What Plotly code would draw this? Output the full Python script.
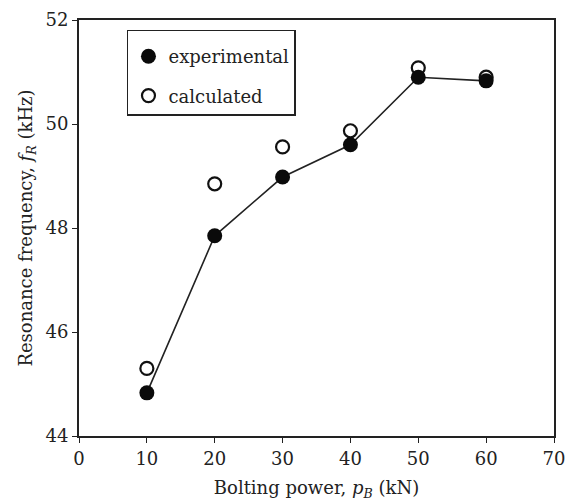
import plotly.graph_objects as go

bolting_power = [10, 20, 30, 40, 50, 60]
experimental = [44.83, 47.85, 48.98, 49.6, 50.9, 50.83]
calculated = [45.3, 48.85, 49.56, 49.87, 51.08, 50.9]

x_ticks = [0, 10, 20, 30, 40, 50, 60, 70]
y_ticks = [44, 46, 48, 50, 52]

font_family = "DejaVu Serif, Liberation Serif, serif"

fig = go.Figure()

fig.add_trace(go.Scatter(
    x=bolting_power, y=calculated, mode="markers", name="calculated",
    marker=dict(symbol="circle-open", size=13, color="#111", line=dict(width=2.2)),
    legendgroup="calc", legendrank=2,
))
fig.add_trace(go.Scatter(
    x=bolting_power, y=experimental, mode="lines",
    line=dict(color="#222", width=1.6), showlegend=False, hoverinfo="skip",
))
fig.add_trace(go.Scatter(
    x=bolting_power, y=experimental, mode="markers", name="experimental",
    marker=dict(symbol="circle", size=15, color="#0a0a0a"),
    legendgroup="exp", legendrank=1,
))

axis_common = dict(
    showline=True, linecolor="#222", linewidth=1.8, mirror=True,
    ticks="outside", ticklen=5, tickwidth=1.2, tickcolor="#222",
    showgrid=False, zeroline=False, automargin=False,
    tickfont=dict(family=font_family, size=18, color="#222"),
)

fig.update_layout(
    width=575, height=503,
    margin=dict(l=79, r=21, t=20, b=67),
    paper_bgcolor="white", plot_bgcolor="white",
    font=dict(family=font_family, color="#222"),
    xaxis=dict(range=[0, 70], tickvals=x_ticks, **axis_common,
               title=dict(text="Bolting power, <i>p</i><sub><i>B</i></sub> (kN)",
                          font=dict(family=font_family, size=18, color="#222"), standoff=14)),
    yaxis=dict(range=[44, 52], tickvals=y_ticks, **axis_common,
               title=dict(text="Resonance frequency, <i>f</i><sub><i>R</i></sub> (kHz)",
                          font=dict(family=font_family, size=18, color="#222"), standoff=8)),
    legend=dict(
        x=0.101, y=0.976, xanchor="left", yanchor="top",
        bordercolor="#222", borderwidth=1.5, bgcolor="white",
        font=dict(family=font_family, size=18, color="#222"),
        title=dict(text=" ", font=dict(size=5)),
        tracegroupgap=13, itemwidth=30,
    ),
)

fig.write_html("out.html")
